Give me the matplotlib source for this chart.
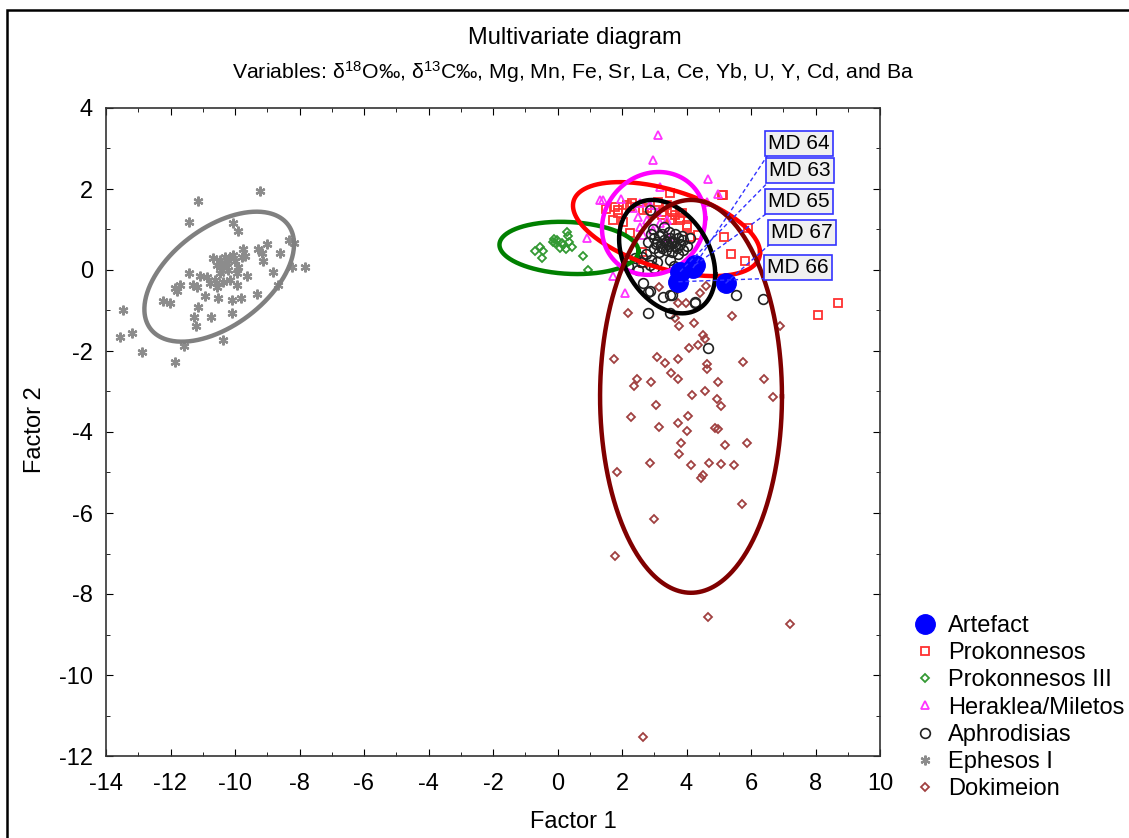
import numpy as np
import matplotlib
matplotlib.use("Agg")
import matplotlib.pyplot as plt
from matplotlib.lines import Line2D
from matplotlib.patches import Rectangle

plt.rcParams['font.family'] = ['Liberation Sans', 'DejaVu Sans']
plt.rcParams['mathtext.fontset'] = 'custom'
plt.rcParams['mathtext.rm'] = 'Liberation Sans'
plt.rcParams['mathtext.it'] = 'Liberation Sans:italic'
plt.rcParams['axes.unicode_minus'] = False

# ---------------- data ----------------
ephesos_x = [-9.23, -11.14, -11.43, -10.05, -9.90, -8.32, -8.17, -9.02, -9.28, -9.74, -8.60, -9.17,
             -9.69, -9.12, -8.24, -7.83, -8.83, -8.66, -9.33, -9.80, -10.10, -10.52, -10.93, -11.43,
             -11.71, -11.86, -11.79, -11.29, -11.19, -11.09, -10.88, -10.78, -10.57, -10.36, -10.15,
             -9.95, -9.64, -12.24, -12.02, -11.14, -11.26, -11.21, -10.74, -10.10, -13.48, -13.20,
             -13.57, -12.87, -11.86, -11.57, -10.36, -10.67, -10.47, -10.26, -10.36, -10.15, -10.00,
             -9.90, -10.21, -10.41, -10.57, -10.05, -9.79, -10.31, -10.47, -9.95, -10.62]
ephesos_y = [1.96, 1.71, 1.19, 1.15, 0.96, 0.74, 0.66, 0.64, 0.53, 0.53, 0.43, 0.41,
             0.35, 0.21, 0.08, 0.07, -0.04, -0.37, -0.59, -0.70, -0.74, -0.70, -0.63, -0.07,
             -0.37, -0.45, -0.51, -0.37, -0.41, -0.16, -0.18, -0.33, -0.41, -0.29, -0.25,
             -0.37, -0.16, -0.77, -0.82, -0.91, -1.15, -1.38, -1.15, -1.07, -0.99, -1.56,
             -1.66, -2.02, -2.26, -1.88, -1.74, 0.29, 0.25, 0.17, 0.08, 0.29, 0.21,
             0.08, 0.00, 0.00, 0.12, 0.37, 0.33, 0.33, -0.08, -0.08, -0.25]

prok3_x = [0.28, -0.11, -0.15, -0.08, 0.34, 0.37, 0.18, 0.08, 0.26, 0.44, -0.54, -0.44, -0.70,
           -0.49, 0.80, 0.96, 0.13, -0.03]
prok3_y = [0.95, 0.76, 0.70, 0.66, 0.84, 0.70, 0.62, 0.54, 0.51, 0.58, 0.58, 0.48, 0.48,
           0.29, 0.35, 0.00, 0.67, 0.74]

herak_x = [3.11, 2.95, 4.68, 3.18, 1.32, 1.96, 4.99, 4.63, 1.73, 2.09, 0.90, 2.35, 2.56, 2.87,
           3.07, 2.51, 2.76, 3.18, 2.97, 2.56, 3.39, 2.66, 3.44, 1.41]
herak_y = [3.33, 2.72, 2.24, 2.06, 1.73, 1.75, 1.88, 1.69, -0.16, -0.58, 0.78, 1.52, 1.65, 1.61,
           1.44, 1.32, 1.23, 1.15, 0.99, 1.07, 1.23, 0.86, 0.82, 1.73]

prok_x = [5.14, 5.92, 5.16, 5.37, 5.81, 8.07, 8.71, 1.78, 2.14, 2.30, 1.73, 2.04, 1.89, 2.77,
          3.23, 3.54, 3.80, 4.11, 4.00, 2.25, 2.66, 2.61, 3.49, 3.39, 3.85, 1.89, 2.25, 2.66,
          3.49, 3.64, 3.80, 4.01, 4.37, 3.54, 5.09, 3.13, 2.92, 3.28, 1.50]
prok_y = [1.85, 1.03, 0.82, 0.40, 0.21, -1.11, -0.81, 1.55, 1.60, 1.66, 1.23, 1.19, 1.40, 1.52,
          1.36, 1.48, 1.23, 0.82, 1.07, 0.91, 0.17, 0.45, 1.23, 1.61, 1.40, 1.48, 1.56, 1.48,
          1.89, 1.36, 1.28, 1.11, 0.86, 1.24, 1.84, 1.69, 1.40, 1.44, 1.50]

aphro_x = [2.87, 2.61, 2.87, 2.66, 2.87, 3.49, 4.26, 5.55, 6.36, 4.66, 2.82, 3.28, 3.54, 2.82,
           4.26, 3.49, 2.9, 3.0, 3.1, 3.2, 3.3, 3.4, 3.5, 3.6, 3.7, 3.8, 3.9, 4.0, 3.35, 3.15,
           3.55, 3.0, 2.8, 3.25, 3.45, 3.65, 2.95, 3.75, 3.9, 2.75, 2.6, 2.9, 3.1, 3.5, 4.1,
           3.3, 2.5, 2.2, 2.4, 3.0, 3.6, 3.05, 3.25, 3.45, 3.65, 3.85, 3.15, 3.35, 3.55, 3.75]
aphro_y = [1.48, 0.33, 0.12, -0.33, -0.53, -0.62, -0.78, -0.62, -0.72, -1.93, -1.07, -0.66,
           -0.62, -0.54, -0.81, -1.07, 0.9, 0.8, 0.7, 0.6, 0.75, 0.65, 0.8, 0.7, 0.55, 0.65, 0.75,
           0.6, 0.5, 0.45, 0.45, 0.55, 0.7, 0.9, 0.95, 0.9, 1.0, 0.4, 0.5, 0.4, 0.2, 0.25, 0.2,
           0.25, 0.8, 1.05, 0.0, 0.1, 0.3, 0.05, 0.1, 0.65, 0.55, 0.6, 0.6, 0.85, 0.85, 0.7,
           0.7, 0.8]

doki_x = [3.75, 3.16, 4.42, 4.60, 3.75, 3.98, 2.18, 3.64, 3.78, 4.24, 5.41, 6.90, 4.50, 4.57,
          4.35, 4.09, 1.75, 3.10, 3.33, 3.75, 4.64, 4.64, 5.76, 2.47, 2.38, 2.89, 3.53, 3.75,
          4.99, 6.41, 4.17, 4.56, 4.95, 5.06, 6.69, 3.06, 2.28, 3.14, 3.74, 4.06, 4.03, 4.89,
          4.98, 3.82, 5.19, 5.89, 3.78, 2.88, 4.14, 4.71, 5.07, 5.48, 1.86, 4.45, 4.52, 5.73,
          2.99, 1.78, 4.67, 7.21, 2.65]
doki_y = [-0.48, -0.43, -0.56, -0.40, -0.81, -0.82, -1.07, -1.19, -1.38, -1.32, -1.14, -1.38,
          -1.61, -1.70, -1.85, -1.92, -2.20, -2.14, -2.30, -2.20, -2.33, -2.45, -2.28, -2.69,
          -2.86, -2.77, -2.55, -2.69, -2.77, -2.69, -3.09, -3.00, -3.19, -3.36, -3.13, -3.33,
          -3.64, -3.87, -3.79, -3.61, -3.98, -3.89, -3.93, -4.28, -4.31, -4.26, -4.54, -4.76,
          -4.82, -4.76, -4.78, -4.82, -4.99, -5.13, -5.06, -5.79, -6.15, -7.05, -8.57, -8.74,
          -11.53]

art_x = [4.20, 3.80, 4.26, 5.21, 3.75]
art_y = [0.05, -0.04, 0.12, -0.33, -0.29]
art_labels = ['MD 64', 'MD 63', 'MD 65', 'MD 67', 'MD 66']
label_x = [6.53, 6.56, 6.53, 6.62, 6.50]
label_y = [3.12, 2.46, 1.69, 0.93, 0.06]

# ellipse parameters: centre x, centre y, half-range x, half-range y, correlation
ell_ephesos = (-10.49, -0.165, 2.32, 1.605, 0.50)
ell_prok3 = (0.355, 0.545, 2.155, 0.645, -0.12)
ell_prok = (3.38, 1.01, 2.90, 1.16, -0.50)
ell_herak = (2.98, 1.15, 1.60, 1.27, 0.10)
ell_aphro = (3.40, 0.33, 1.49, 1.40, -0.31)
ell_doki = (4.14, -3.12, 2.82, 4.85, 0.0)

# ---------------- figure ----------------
fig = plt.figure(figsize=(11.29, 8.38), dpi=100)
ax = fig.add_axes([106/1129, 1-756/838, (880-106)/1129, (756-108)/838])

fig.add_artist(Rectangle((7/1129, -0.1), 1.2, 1.1 - 10/838, transform=fig.transFigure,
                         fill=False, lw=1.8, ec='black', clip_on=False))


def draw_ell(p, color):
    cx, cy, sx, sy, r = p
    t = np.linspace(0, 2*np.pi, 400)
    xs = cx + sx*np.cos(t)
    ys = cy + sy*(r*np.cos(t) + np.sqrt(1-r*r)*np.sin(t))
    ax.plot(xs, ys, color=color, lw=3.2, zorder=4)


ax.plot(ephesos_x, ephesos_y, ls='none', marker=(6, 2, 0), ms=7, mew=1.6, color='#8c8c8c', zorder=3)
ax.plot(doki_x, doki_y, ls='none', marker='D', ms=4.5, mfc='none', mec='#a04040', mew=1.3, zorder=3)
ax.plot(prok3_x, prok3_y, ls='none', marker='D', ms=4.5, mfc='none', mec='#339933', mew=1.3, zorder=3)
ax.plot(prok_x, prok_y, ls='none', marker='s', ms=6, mfc='none', mec='#ff3030', mew=1.3, zorder=3)
ax.plot(herak_x, herak_y, ls='none', marker='^', ms=6, mfc='none', mec='#ff33ff', mew=1.3, zorder=3)
ax.plot(aphro_x, aphro_y, ls='none', marker='o', ms=7, mfc='none', mec='#222222', mew=1.2, zorder=3)

draw_ell(ell_ephesos, '#808080')
draw_ell(ell_prok3, '#008000')
draw_ell(ell_prok, '#ff0000')
draw_ell(ell_herak, '#ff00ff')
draw_ell(ell_aphro, '#000000')
draw_ell(ell_doki, '#800000')

ax.plot(art_x, art_y, ls='none', marker='o', ms=14, color='#0000ff', zorder=5)

for px, py, lx, ly, lab in zip(art_x, art_y, label_x, label_y, art_labels):
    ax.plot([px, lx], [py, ly - 0.27], ls=(0, (3, 2)), color='#3333ff', lw=1.0, zorder=5)
    ax.text(lx, ly, lab, fontsize=15, ha='left', va='center', zorder=6,
            bbox=dict(boxstyle='square,pad=0.15', fc='#f0f0f0', ec='#3333ff', lw=1.2))

ax.set_xlim(-14, 10)
ax.set_ylim(-12, 4)
ax.set_xticks(np.arange(-14, 11, 2))
ax.set_yticks(np.arange(-12, 5, 2))
ax.set_xticks(np.arange(-14, 11, 1), minor=True)
ax.set_yticks(np.arange(-12, 5, 1), minor=True)
ax.tick_params(which='both', direction='in', top=True, right=True, labelsize=17)
ax.tick_params(axis='x', which='both', pad=12)
ax.tick_params(axis='y', which='both', pad=9.5)
ax.tick_params(which='major', length=5)
ax.tick_params(which='minor', length=3)
for s in ax.spines.values():
    s.set_linewidth(1.2)
    s.set_color('#333333')

fig.text(573/1129, 1-822/838, 'Factor 1', ha='center', va='center', fontsize=17)
fig.text(35/1129, 1-430/838, 'Factor 2', ha='center', va='center', fontsize=17, rotation=90)

fig.text(575/1129, 1-38/838, 'Multivariate diagram', ha='center', va='center', fontsize=17)
fig.text(573/1129, 1-72/838,
         r'Variables: δ$^{18}$O‰, δ$^{13}$C‰, Mg, Mn, Fe, Sr, La, Ce, Yb, U, Y, Cd, and Ba',
         ha='center', va='center', fontsize=15.3)

handles = [
    Line2D([], [], ls='none', marker='o', ms=14, color='#0000ff'),
    Line2D([], [], ls='none', marker='s', ms=6, mfc='none', mec='#ff3030', mew=1.3),
    Line2D([], [], ls='none', marker='D', ms=4.5, mfc='none', mec='#339933', mew=1.3),
    Line2D([], [], ls='none', marker='^', ms=6, mfc='none', mec='#ff33ff', mew=1.3),
    Line2D([], [], ls='none', marker='o', ms=7, mfc='none', mec='#222222', mew=1.2),
    Line2D([], [], ls='none', marker=(6, 2, 0), ms=7, mew=1.6, color='#8c8c8c'),
    Line2D([], [], ls='none', marker='D', ms=4.5, mfc='none', mec='#a04040', mew=1.3),
]
names = ['Artefact', 'Prokonnesos', 'Prokonnesos III', 'Heraklea/Miletos', 'Aphrodisias',
         'Ephesos I', 'Dokimeion']
fig.legend(handles, names, loc='upper left', bbox_to_anchor=(913/1129, 1-615/838),
           frameon=False, fontsize=17, handlelength=1.0, handletextpad=0.47,
           labelspacing=0.22, borderpad=0, borderaxespad=0)

fig.savefig('out.png', dpi=100)
